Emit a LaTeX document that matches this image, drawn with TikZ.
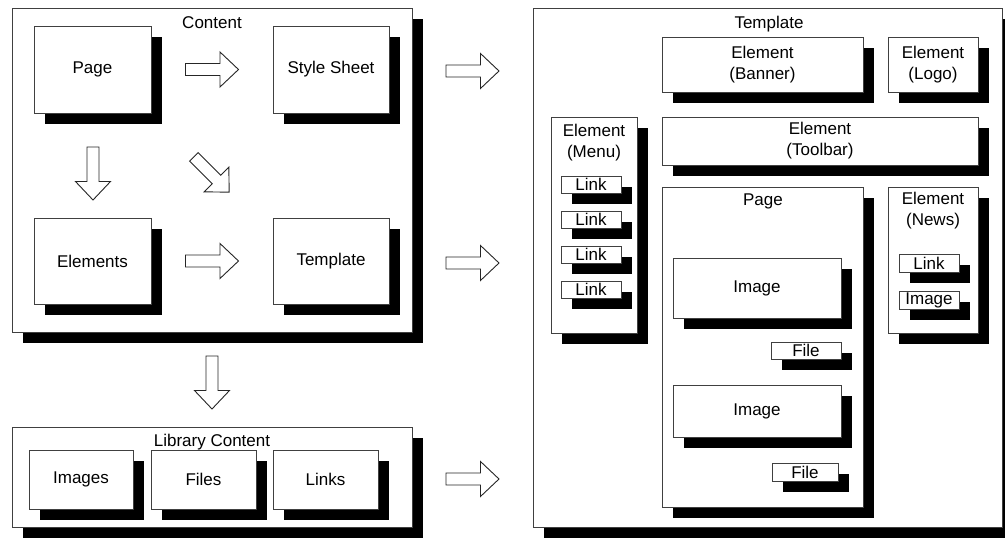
\documentclass[tikz,border=0pt]{standalone}
\usepackage{fontspec}
\setmainfont{Liberation Sans}
\usetikzlibrary{shadows,calc}
\tikzset{
  lbl/.style={font=\fontsize{17}{21}\selectfont, inner sep=0pt, align=center},
  box/.style={draw=black!75, line width=0.9pt, fill=white, inner sep=0pt,
    font=\fontsize{17}{21}\selectfont, align=center,
    drop shadow={shadow xshift=11pt, shadow yshift=-11pt, opacity=1, fill=black}},
  arrowline/.style={draw=black!85, line width=0.9pt, fill=white, line join=miter},
  blockarrow/.pic={\path[arrowline] (-26.5,-6) -- (8,-6) -- (8,-17.5) -- (26.5,0) -- (8,17.5) -- (8,6) -- (-26.5,6) -- cycle;},
  diagarrow/.pic={\path[arrowline] (-25,-6) -- (7,-6) -- (7,-17.5) -- (25,0) -- (7,17.5) -- (7,6) -- (-25,6) -- cycle;}
}
\newcommand\mybox[7][]{\node[box,#1,minimum width={#5-#3},minimum height={#6-#4}] (#2) at ({(#3+#5)/2},{(#4+#6)/2}) {#7};}
\begin{document}
\begin{tikzpicture}[x=1pt,y=-1pt]
\useasboundingbox (0,0) rectangle (1005,538);
% ---------- Content ----------
\mybox{content}{12}{8}{412}{332}{}
\node[lbl] (contentlbl) at (212,23) {Content};
\mybox{page}{34}{26}{151}{113}{Page}
\mybox{style}{273}{26}{389}{113}{Style Sheet}
\mybox{elements}{34}{218}{151}{304}{Elements}
\mybox{template}{273}{218}{389}{304}{Template}
\coordinate (a1) at ($(page.east)!0.5!(style.west)$);
\coordinate (a2) at ($(elements.east)!0.5!(template.west)$);
\coordinate (a3) at ($(page.south)!0.5!(elements.north)+(0.5,8)$);
\coordinate (a4) at (211.5,174.5);
\pic at (a1) {blockarrow};
\pic at (a2) {blockarrow};
\pic[rotate=-90] at (a3) {blockarrow};
\pic[rotate=-45] at (a4) {diagarrow};
% ---------- Library ----------
\mybox{library}{12}{427}{412}{527}{}
\node[lbl] (librarylbl) at (212,442) {Library Content};
\mybox{images}{29}{450}{133}{509}{Images}
\mybox{files}{151}{450}{256}{509}{Files}
\mybox{links}{273}{450}{378}{509}{Links}
\coordinate (a5) at ($(content.south)!0.5!(library.north)+(0,3)$);
\pic[rotate=-90] at (a5) {blockarrow};
% ---------- Template ----------
\mybox{tpl}{533}{8}{1002}{527}{}
\node[lbl] (tpllbl) at (769,24) {Template};
\mybox{banner}{662}{37}{863}{92}{Element\\(Banner)}
\mybox{logo}{888}{37}{978}{92}{Element\\(Logo)}
\mybox{toolbar}{662}{117}{978}{165}{Element\\(Toolbar)}
\mybox{menu}{551}{117}{637}{333}{}
\node[lbl] (menulbl) at (594,143) {Element\\(Menu)};
\mybox{link1}{561}{176}{621}{193}{Link}
\mybox{link2}{561}{211}{621}{228}{Link}
\mybox{link3}{561}{246}{621}{263}{Link}
\mybox{link4}{561}{281}{621}{298}{Link}
\mybox{tpage}{662}{187}{863}{507}{}
\node[lbl] (tpagelbl) at (763,201) {Page};
\mybox{image1}{673}{258}{841}{318}{Image}
\mybox{file1}{771}{342}{841}{359}{File}
\mybox{image2}{673}{385}{841}{437}{Image}
\mybox{file2}{772}{463}{838}{481}{File}
\mybox{news}{888}{187}{978}{333}{}
\node[lbl] (newslbl) at (933,211) {Element\\(News)};
\mybox{nlink}{899}{254}{959}{272}{Link}
\mybox{nimage}{899}{291}{959}{309}{Image}
% ---------- right arrows ----------
\coordinate (r1) at (472.5,71);
\coordinate (r2) at (472.5,263);
\coordinate (r3) at (472.5,479);
\pic at (r1) {blockarrow};
\pic at (r2) {blockarrow};
\pic at (r3) {blockarrow};
\end{tikzpicture}
\end{document}
